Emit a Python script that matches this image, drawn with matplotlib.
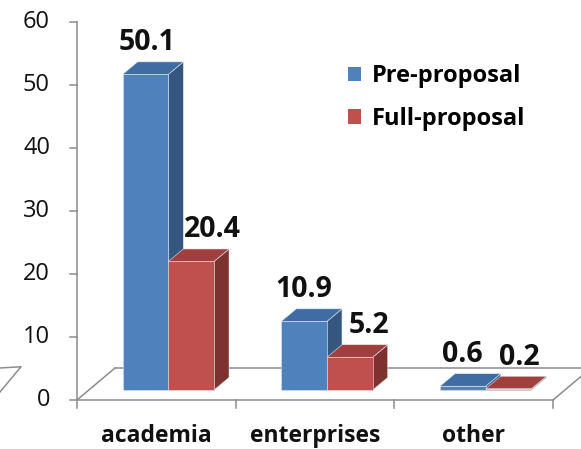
import matplotlib
matplotlib.use("Agg")
import matplotlib.pyplot as plt
from matplotlib.patches import Polygon, Patch

# ---- data ----
categories = ["academia", "enterprises", "other"]
series_names = ["Pre-proposal", "Full-proposal"]
pre_proposal = [50.1, 10.9, 0.6]
full_proposal = [20.4, 5.2, 0.2]
y_ticks = [0, 10, 20, 30, 40, 50, 60]

# ---- styling ----
FONT = "Open Sans"
front_cols = ["#4F81BD", "#C0504D"]
top_cols = ["#3F6CA3", "#A03F3C"]
side_cols = ["#35577F", "#7E3230"]
axis_col = "#8C8C8C"

W, H = 581, 449
fig = plt.figure(figsize=(W / 100, H / 100), dpi=100)
fig.patch.set_facecolor("white")

# front plane of the 3-D box: x in category units, y in value units
left_px, right_px, base_px, top_px = 77, 553, 400, 22
ax = fig.add_axes([left_px / W, (H - base_px) / H,
                   (right_px - left_px) / W, (base_px - top_px) / H])
ax.set_xlim(0, len(categories))
ax.set_ylim(0, 60)
ax.axis("off")

PX = len(categories) / (right_px - left_px)   # x units per pixel
PY = 60 / (base_px - top_px)                   # y units per pixel

# oblique projection offsets
floor_dx, floor_dy = 38 * PX, 32 * PY     # full depth of floor
base_dx, base_dy = 12 * PX, 10 * PY       # bars' front plane
bar_dx, bar_dy = 15 * PX, 12.5 * PY       # bar depth
bar_w = 0.288

lk = dict(color=axis_col, lw=1.1, clip_on=False, zorder=1)
n = len(categories)
# floor outline
ax.plot([0, n], [0, 0], **lk)
ax.plot([floor_dx, n + floor_dx], [floor_dy, floor_dy], **lk)
ax.plot([0, floor_dx], [0, floor_dy], **lk)
ax.plot([n, n + floor_dx], [0, floor_dy], **lk)
# stray floor edge at far left
ax.plot([-77 * PX, -56 * PX, -77 * PX], [floor_dy, floor_dy + 0.2, 8 * PY], **lk)
# value axis
ax.plot([0, 0], [0, 60], **lk)
for t in y_ticks:
    ax.plot([-7 * PX, 0], [t, t], **lk)
    ax.text(-27 * PX, t, str(t), ha="right", va="center", fontsize=17,
            family=FONT, color="#111111")
# category axis ticks and labels
for i in range(n + 1):
    ax.plot([i, i], [0, -8 * PY], **lk)
for i, c in enumerate(categories):
    ax.text(i + 0.5, -36 * PY, c, ha="center", va="center", fontsize=16.5,
            fontweight="bold", family=FONT, color="#111111")

# label nudges (pixels) for each series
label_nudge = [[2, 0, -1], [21, 19.5, 11]]


def draw_bar(x0, v, k, z):
    y0 = base_dy
    ec = dict(ec="#DCE6F2", lw=0.4, zorder=z, clip_on=False)
    front = Polygon([(x0, y0), (x0 + bar_w, y0), (x0 + bar_w, y0 + v), (x0, y0 + v)],
                    closed=True, fc=front_cols[k], **ec)
    top = Polygon([(x0, y0 + v), (x0 + bar_w, y0 + v),
                   (x0 + bar_w + bar_dx, y0 + v + bar_dy), (x0 + bar_dx, y0 + v + bar_dy)],
                  closed=True, fc=top_cols[k], **ec)
    side = Polygon([(x0 + bar_w, y0), (x0 + bar_w + bar_dx, y0 + bar_dy),
                    (x0 + bar_w + bar_dx, y0 + v + bar_dy), (x0 + bar_w, y0 + v)],
                   closed=True, fc=side_cols[k], **ec)
    for p in (side, top, front):
        ax.add_patch(p)


z = 3
for i in range(n):
    centre = i + 0.5 + base_dx
    for k, vals in enumerate([pre_proposal, full_proposal]):
        x0 = centre - bar_w + k * bar_w
        v = vals[i]
        draw_bar(x0, v, k, z)
        z += 1
        ax.text(x0 + bar_w / 2 + label_nudge[k][i] * PX,
                base_dy + v + bar_dy + 4.5 * PY, f"{v:.1f}",
                ha="center", va="bottom", fontsize=20.5, fontweight="bold",
                family=FONT, color="#111111", zorder=20)

# legend
handles = [Patch(fc=front_cols[k], ec="none", label=series_names[k]) for k in range(2)]
leg = fig.legend(handles=handles, loc="upper left",
                 bbox_to_anchor=(339 / W, 1 - 55 / H), frameon=False,
                 prop=dict(family=FONT, weight="bold", size=17),
                 handlelength=0.55, handleheight=0.55, handletextpad=0.45,
                 labelspacing=0.78, borderaxespad=0)

fig.savefig("out.png", dpi=100, facecolor="white")
